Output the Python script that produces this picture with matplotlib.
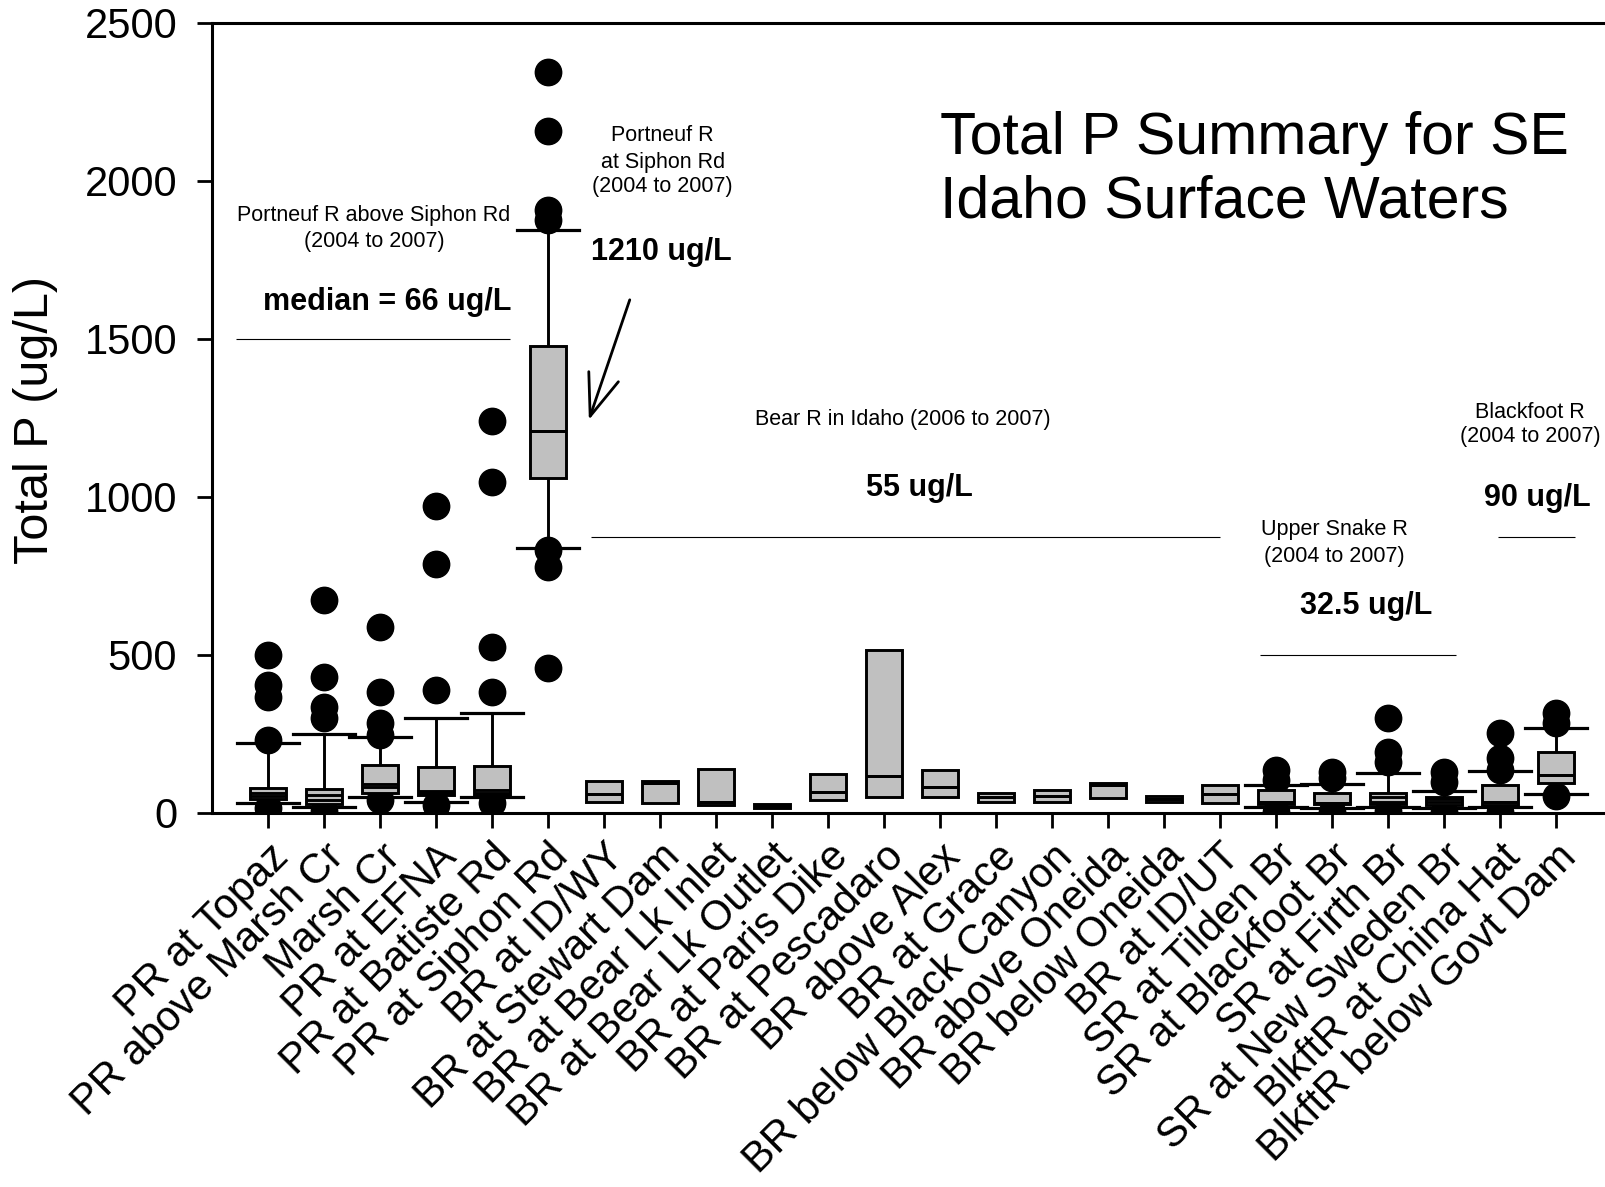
import matplotlib
matplotlib.use('Agg')
import matplotlib.pyplot as plt

plt.rcParams['font.family'] = ['Liberation Sans', 'DejaVu Sans']

sites = ["PR at Topaz", "PR above Marsh Cr", "Marsh Cr", "PR at EFNA",
         "PR at Batiste Rd", "PR at Siphon Rd", "BR at ID/WY", "BR at Stewart Dam",
         "BR at Bear Lk Inlet", "BR at Bear Lk Outlet", "BR at Paris Dike",
         "BR at Pescadaro", "BR above Alex", "BR at Grace", "BR below Black Canyon",
         "BR above Oneida", "BR below Oneida", "BR at ID/UT", "SR at Tilden Br",
         "SR at Blackfoot Br", "SR at Firth Br", "SR at New Sweden Br",
         "BlkftR at China Hat", "BlkftR below Govt Dam"]

q1 = [43, 28, 64, 57, 57, 1059, 36, 31, 25, 15, 41, 50, 52, 36, 36, 47, 34, 32,
      30, 27, 28, 25, 25, 96]
med = [54, 41, 82, 62, 64, 1208, 60, 94, 36, 22, 68, 118, 82, 50, 55, 89, 43, 60,
       36, 32, 36, 35, 36, 120]
mean = [64, 57, 92, 71, 72, 1208, 60, 94, 36, 22, 68, 118, 82, 50, 55, 89, 43, 60,
        36, 32, 50, 43, 36, 120]
q3 = [78, 77, 152, 145, 149, 1478, 101, 101, 139, 28, 123, 516, 135, 64, 73, 96,
      54, 90, 73, 64, 62, 52, 89, 194]
whisker_low = [33, 20, 50, 36, 50, 839, None, None, None, None, None, None, None,
               None, None, None, None, None, 18, 15, 20, 15, 18, 59]
whisker_high = [221, 249, 240, 300, 317, 1844, None, None, None, None, None, None,
                None, None, None, None, None, None, 89, 92, 126, 71, 133, 268]
outliers = [
    [500, 405, 368, 231, 15],
    [674, 431, 336, 300, 5],
    [588, 384, 286, 247, 41],
    [970, 788, 389, 25],
    [1241, 1046, 526, 384, 31],
    [2346, 2158, 1908, 1876, 832, 780, 460],
    [], [], [], [], [], [], [], [], [], [], [], [],
    [136, 104, 3],
    [131, 110, 2],
    [300, 194, 162, 5],
    [131, 99, 2],
    [252, 173, 136, 2],
    [316, 284, 54],
]

yticks = [0, 500, 1000, 1500, 2000, 2500]

fig = plt.figure(figsize=(16.06, 11.87), dpi=100)
ax = fig.add_axes([212 / 1606, 1 - 813 / 1187, 1400 / 1606, 790 / 1187])

common = dict(widths=0.63, patch_artist=True, showmeans=True, meanline=True,
              manage_ticks=False,
              boxprops=dict(facecolor='#c0c0c0', edgecolor='black', linewidth=2.1, zorder=3),
              medianprops=dict(color='black', linewidth=2.1, zorder=4),
              meanprops=dict(color='black', linewidth=2.1, linestyle='-', zorder=4),
              whiskerprops=dict(color='black', linewidth=2.1, zorder=2),
              capprops=dict(color='black', linewidth=2.3, zorder=2.5),
              flierprops=dict(marker='o', markerfacecolor='black', markeredgecolor='black',
                              markersize=19, linestyle='none', zorder=1))

st_w, pos_w, st_n, pos_n = [], [], [], []
for i in range(len(sites)):
    d = dict(med=med[i], q1=q1[i], q3=q3[i], mean=mean[i], fliers=outliers[i])
    if whisker_low[i] is None:
        d['whislo'] = q1[i]
        d['whishi'] = q3[i]
        st_n.append(d)
        pos_n.append(i + 1)
    else:
        d['whislo'] = whisker_low[i]
        d['whishi'] = whisker_high[i]
        st_w.append(d)
        pos_w.append(i + 1)

ax.bxp(st_w, positions=pos_w, capwidths=1.1, showcaps=True, showfliers=True, **common)
ax.bxp(st_n, positions=pos_n, showcaps=False, showfliers=False, **common)

ax.set_xlim(0, 25)
ax.set_ylim(0, 2500)
ax.set_yticks(yticks)
ax.set_yticklabels([str(v) for v in yticks], fontsize=30)
ax.set_xticks(range(1, len(sites) + 1))
ax.set_xticklabels(sites, rotation=45, ha='right', va='top', rotation_mode='anchor',
                   fontsize=30)
ax.tick_params(axis='y', length=11, width=2, pad=14, direction='out')
ax.tick_params(axis='x', length=11, width=2, pad=6, direction='out')
for s in ['left', 'bottom', 'top']:
    ax.spines[s].set_linewidth(2.2)
ax.spines['right'].set_visible(False)

fig.text(36 / 1606, 1 - 420 / 1187, 'Total P (ug/L)', rotation=90, ha='center',
         va='center', fontsize=35)

small = 15.5
big = 22
ax.text(2.89, 1890, 'Portneuf R above Siphon Rd', ha='center', va='center', fontsize=small)
ax.text(2.89, 1807, '(2004 to 2007)', ha='center', va='center', fontsize=small)
ax.text(3.125, 1617, 'median = 66 ug/L', ha='center', va='center', fontsize=big, fontweight='bold')
ax.text(8.05, 2143, 'Portneuf R', ha='center', va='center', fontsize=small)
ax.text(8.05, 2060, 'at Siphon Rd', ha='center', va='center', fontsize=small)
ax.text(8.05, 1984, '(2004 to 2007)', ha='center', va='center', fontsize=small)
ax.text(8.03, 1776, '1210 ug/L', ha='center', va='center', fontsize=big, fontweight='bold')
ax.annotate('', xy=(6.73, 1244), xytext=(7.46, 1624),
            arrowprops=dict(arrowstyle='->,head_length=1.2,head_width=0.45', lw=2,
                            color='black', mutation_scale=25, shrinkA=0, shrinkB=0))
ax.text(12.34, 1244, 'Bear R in Idaho (2006 to 2007)', ha='center', va='center', fontsize=small)
ax.text(12.63, 1029, '55 ug/L', ha='center', va='center', fontsize=big, fontweight='bold')
ax.text(20.04, 896, 'Upper Snake R', ha='center', va='center', fontsize=small)
ax.text(20.04, 813, '(2004 to 2007)', ha='center', va='center', fontsize=small)
ax.text(20.61, 655, '32.5 ug/L', ha='center', va='center', fontsize=big, fontweight='bold')
ax.text(23.54, 1266, 'Blackfoot R', ha='center', va='center', fontsize=small)
ax.text(23.54, 1190, '(2004 to 2007)', ha='center', va='center', fontsize=small)
ax.text(23.66, 997, '90 ug/L', ha='center', va='center', fontsize=big, fontweight='bold')

sep_y = [1500, 875, 500, 875]
sep_x0 = [0.42, 6.77, 18.71, 22.96]
sep_x1 = [5.32, 18.0, 22.21, 24.34]
ax.hlines(sep_y, sep_x0, sep_x1, colors='black', linewidth=0.8)

ax.text(13.0, 2136, 'Total P Summary for SE', ha='left', va='center', fontsize=42.5)
ax.text(13.0, 1934, 'Idaho Surface Waters', ha='left', va='center', fontsize=42.5)

fig.savefig('out.png', dpi=100)
